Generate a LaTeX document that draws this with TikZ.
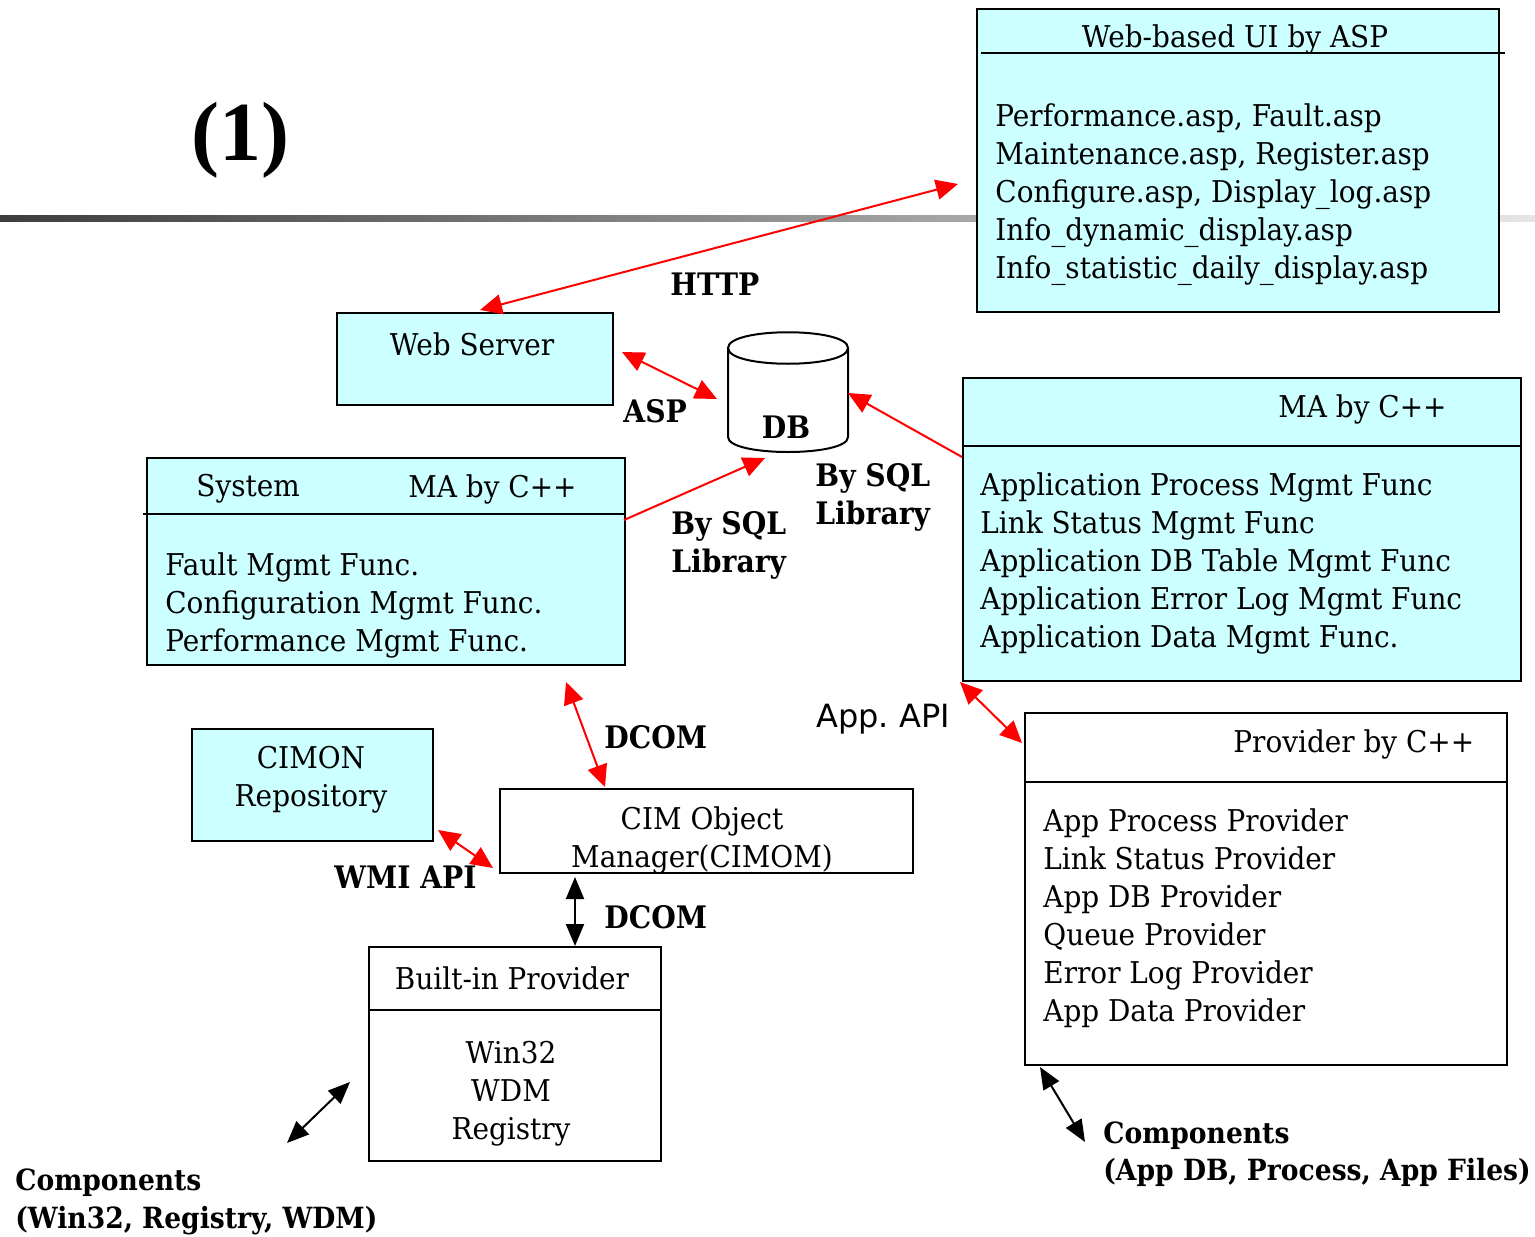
\documentclass[tikz,border=0pt]{standalone}
\usepackage{fontspec}
\setmainfont{DejaVu Serif}[FakeStretch=0.93]
\newfontfamily\labf{DejaVu Serif}[FakeStretch=0.91]
\newfontfamily\sansf{DejaVu Sans}
\newfontfamily\timesf{Liberation Serif}
\usetikzlibrary{arrows.meta}
\definecolor{boxcyan}{RGB}{204,255,255}
\begin{document}
\begin{tikzpicture}[x=0.5pt,y=-0.5pt,
  cbox/.style={draw=black,line width=1pt,fill=boxcyan,anchor=north west,inner sep=0pt},
  wbox/.style={cbox,fill=white},
  txt/.style={font=\fontsize{15}{19}\selectfont,inner sep=0pt,align=left},
  ctxt/.style={txt,align=center},
  lbl/.style={font=\labf\fontsize{15.5}{19}\selectfont\bfseries,inner sep=0pt,align=left},
  clbl/.style={font=\labf\fontsize{14.6}{18.8}\selectfont\bfseries,inner sep=0pt,align=left},
  sep/.style={line width=1pt},
  redarr/.style={draw=red,line width=1pt,{Triangle[length=11pt,width=10pt]}-{Triangle[length=11pt,width=10pt]},red},
  redone/.style={draw=red,line width=1pt,-{Triangle[length=11pt,width=10pt]},red},
  blkarr/.style={draw=black,line width=1pt,{Triangle[length=11pt,width=9pt]}-{Triangle[length=11pt,width=9pt]}}
]
\useasboundingbox (0,0) rectangle (1535,1236);
% gradient rule
\shade[left color=black!76,right color=black!10] (0,215) rectangle (1535,221);
\node[font=\timesf\bfseries\fontsize{42}{42}\selectfont,inner sep=0pt] (num) at (240,140) {(1)};

% Web-based UI box
\node[cbox,minimum width=522*0.5pt,minimum height=303*0.5pt] (webui) at (976,8) {};
\draw[sep] (981,53) -- (1505,53);
\node[txt] (webuit) at (1235,39) {Web-based UI by ASP};
\node[txt,anchor=west] (webuib) at (995,195) {Performance.asp, Fault.asp\\Maintenance.asp, Register.asp\\Configure.asp, Display\_log.asp\\Info\_dynamic\_display.asp\\Info\_statistic\_daily\_display.asp};

% Web server
\node[cbox,minimum width=276*0.5pt,minimum height=92*0.5pt] (ws) at (336,312) {};
\node[txt] (wst) at (472,344) {Web Server};

% DB cylinder
\path[draw=black,line width=1pt,fill=white] (728,348) -- (728,437) .. controls (728,457) and (848,457) .. (848,437) -- (848,348) .. controls (848,327) and (728,327) .. (728,348) -- cycle;
\draw[line width=1pt] (728,348) .. controls (728,369) and (848,369) .. (848,348);
\node[lbl] (db) at (786,427) {DB};

% System MA box
\node[cbox,minimum width=478*0.5pt,minimum height=207*0.5pt] (sys) at (146,457) {};
\draw[sep] (143,514) -- (624,514);
\node[txt,anchor=west] (syst1) at (196,489) {System};
\node[txt,anchor=west] (syst2) at (408,489) {MA by C++};
\node[txt,anchor=west] (sysb) at (165,605) {Fault Mgmt Func.\\Configuration Mgmt Func.\\Performance Mgmt Func.};

% MA right box
\node[cbox,minimum width=558*0.5pt,minimum height=303*0.5pt] (mar) at (962,377) {};
\draw[sep] (962,446) -- (1520,446);
\node[txt,anchor=west] (mart) at (1278,409) {MA by C++};
\node[txt,anchor=west] (marb) at (980,563) {Application Process Mgmt Func\\Link Status Mgmt Func\\Application DB Table Mgmt Func\\Application Error Log Mgmt Func\\Application Data Mgmt Func.};

% Provider box
\node[wbox,minimum width=482*0.5pt,minimum height=352*0.5pt] (prov) at (1024,712) {};
\draw[sep] (1024,782) -- (1506,782);
\node[txt,anchor=west] (provt) at (1233,744) {Provider by C++};
\node[txt,anchor=west] (provb) at (1043,918) {App Process Provider\\Link Status Provider\\App DB Provider\\Queue Provider\\Error Log Provider\\App Data Provider};

% CIMON repository
\node[cbox,minimum width=241*0.5pt,minimum height=112*0.5pt] (cimon) at (191,728) {};
\node[ctxt] (cimont) at (311,780) {CIMON\\Repository};

% CIMOM
\node[wbox,minimum width=413*0.5pt,minimum height=84*0.5pt] (cimom) at (499,788) {};
\node[ctxt] (cimomt) at (702,840) {CIM Object\\Manager(CIMOM)};

% Built-in provider
\node[wbox,minimum width=292*0.5pt,minimum height=214*0.5pt] (bip) at (368,946) {};
\draw[sep] (368,1010) -- (662,1010);
\node[txt] (bipt) at (512,978) {Built-in Provider};
\node[ctxt] (bipb) at (511,1094) {Win32\\WDM\\Registry};

% labels
\node[lbl,anchor=west] (lhttp) at (670,284) {HTTP};
\node[lbl,anchor=west] (lasp) at (623,411) {ASP};
\node[lbl,anchor=west] (lsql1) at (671,545) {By SQL\\Library};
\node[lbl,anchor=west] (lsql2) at (815,497) {By SQL\\Library};
\node[font=\sansf\fontsize{16}{19}\selectfont,inner sep=0pt,anchor=west] (lapi) at (816,719) {App.\ API};
\node[lbl,anchor=west] (ldcom1) at (604,737) {DCOM};
\node[lbl,anchor=west] (lwmi) at (334,877) {WMI API};
\node[lbl,anchor=west] (ldcom2) at (604,917) {DCOM};
\node[clbl,anchor=west] (lcomp1) at (15,1202) {Components\\(Win32, Registry, WDM)};
\node[clbl,anchor=west] (lcomp2) at (1103,1154) {Components\\(App DB, Process, App Files)};

% arrow end points
\coordinate (h1) at (480,310); \coordinate (h2) at (958,184);
\coordinate (a1) at (622,352); \coordinate (a2) at (717,399);
\coordinate (s1) at (962,457); \coordinate (s2) at (848,393);
\coordinate (t1) at (624,520); \coordinate (t2) at (765,458);
\coordinate (p1) at (960,682); \coordinate (p2) at (1022,743);
\coordinate (d1) at (566,682); \coordinate (d2) at (605,787);
\coordinate (w1) at (438,830); \coordinate (w2) at (493,868);
\coordinate (e1) at (575,877); \coordinate (e2) at (575,946);
\coordinate (c1) at (350,1082); \coordinate (c2) at (287,1143);
\coordinate (k1) at (1040,1067); \coordinate (k2) at (1085,1142);

\draw[redarr] (h1) -- (h2);
\draw[redarr] (a1) -- (a2);
\draw[redone] (s1) -- (s2);
\draw[redone] (t1) -- (t2);
\draw[redarr] (p1) -- (p2);
\draw[redarr] (d1) -- (d2);
\draw[redarr] (w1) -- (w2);
\draw[blkarr] (e1) -- (e2);
\draw[blkarr] (c1) -- (c2);
\draw[blkarr] (k1) -- (k2);
\end{tikzpicture}
\end{document}
